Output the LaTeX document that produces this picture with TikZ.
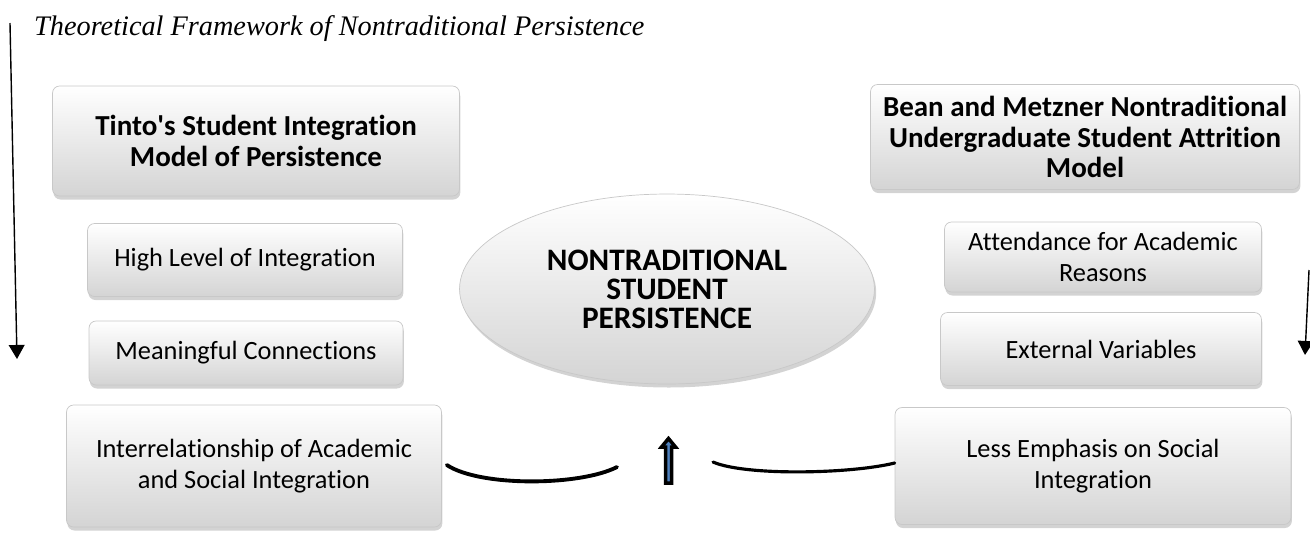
\documentclass[tikz,border=0pt]{standalone}
\usepackage{fontspec}
\setmainfont{Carlito}[Ligatures=NoCommon]
\newfontfamily\titlefont{Liberation Serif}
\usetikzlibrary{shadows,shapes.geometric,arrows.meta}

\definecolor{boxline}{RGB}{200,200,200}
\definecolor{boxlow}{RGB}{212,212,212}
\definecolor{arrowblue}{RGB}{79,129,189}

\tikzset{
    modelbox/.style={draw=boxline, rounded corners=4pt, top color=white,
        bottom color=boxlow, drop shadow={opacity=0.35, shadow xshift=0.5pt,
        shadow yshift=-2pt}, align=center, inner sep=2pt,
        font=\fontsize{15}{17.5}\selectfont},
    headbox/.style={modelbox, font=\fontsize{16.5}{17.5}\selectfont\bfseries},
    hub/.style={ellipse, draw=boxline, top color=white, bottom color=boxlow,
        drop shadow={opacity=0.35, shadow xshift=1pt, shadow yshift=-2pt},
        align=center, font=\fontsize{17.8}{16.5}\selectfont\bfseries},
    curve/.style={line width=2.2pt, line cap=round},
    side/.style={-{Triangle[length=8pt,width=9pt]}, line width=0.8pt}
}

\begin{document}
\begin{tikzpicture}[x=0.02cm, y=-0.02cm]
        \useasboundingbox (0,0) rectangle (1310,532);
        \node[anchor=base west, font=\titlefont\itshape\fontsize{16.1}{18}\selectfont]
            (title) at (28,35) {Theoretical Framework of Nontraditional Persistence};
        % left column
        \node[headbox, minimum width=8.14cm, minimum height=2.2cm] (tinto) at (256,141)
            {Tinto\textquotesingle s Student Integration\\Model of Persistence};
        \node[modelbox, minimum width=6.3cm, minimum height=1.46cm] (high) at (245,260)
            {High Level of Integration};
        \node[modelbox, minimum width=6.28cm, minimum height=1.28cm] (meaning) at (246,353)
            {Meaningful Connections};
        \node[modelbox, minimum width=7.5cm, minimum height=2.44cm] (inter) at (254,466)
            {Interrelationship of Academic\\and Social Integration};
        % right column
        \node[headbox, minimum width=8.58cm, minimum height=2.1cm] (bean) at (1085,137)
            {Bean and Metzner Nontraditional\\Undergraduate Student Attrition\\Model};
        \node[modelbox, minimum width=6.34cm, minimum height=1.4cm] (attend) at (1103,257)
            {Attendance for Academic\\Reasons};
        \node[modelbox, minimum width=6.42cm, minimum height=1.46cm] (external) at (1101,349)
            {External Variables};
        \node[modelbox, minimum width=7.92cm, minimum height=2.34cm] (less) at (1093,466)
            {Less Emphasis on Social\\Integration};
        % centre
        \node[hub, minimum width=8.3cm, minimum height=3.8cm] (persist) at (667,289)
            {NONTRADITIONAL\\STUDENT\\PERSISTENCE};

        \coordinate (lend) at (617,467);
        \coordinate (rend) at (713,462);
        \draw[curve] (inter.east) ++(5,-1)
            .. controls (480,487) and (580,486) .. (lend);
        \draw[curve, line width=1.8pt] (rend)
            .. controls (745,476) and (850,474) .. (less.west |- 0,463);
        \draw[line width=2pt, fill=arrowblue] (665.5,483) -- (665.5,447) -- (661.5,447)
            -- (668.5,438.5) -- (675.5,447) -- (671.5,447) -- (671.5,483) -- cycle;

        \coordinate (ltop) at (10,23);
        \coordinate (lbot) at (17,359);
        \draw[side] (ltop) -- (lbot);
        \coordinate (rtop) at (1309,270);
        \coordinate (rbot) at (1305,355);
        \draw[side] (rtop) -- (rbot);
\end{tikzpicture}
\end{document}
